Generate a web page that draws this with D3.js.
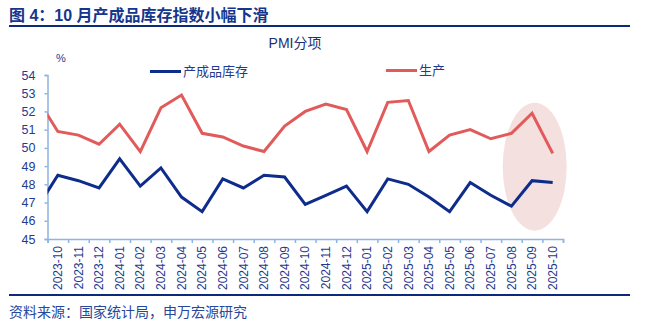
<!DOCTYPE html>
<html><head><meta charset="utf-8">
<script src="https://cdn.jsdelivr.net/npm/d3@7"></script>
<style>
body{margin:0;background:#fff;}
text{font-family:"Liberation Sans",Arial,"Noto Sans CJK SC",sans-serif;}
</style></head>
<body>
<svg id="c" width="660" height="327"></svg>
<script>
const months = ["2023-10","2023-11","2023-12","2024-01","2024-02","2024-03","2024-04","2024-05","2024-06","2024-07","2024-08","2024-09","2024-10","2024-11","2024-12","2025-01","2025-02","2025-03","2025-04","2025-05","2025-06","2025-07","2025-08","2025-09","2025-10"];
// first value = 2023-09 (partly shown, clipped at the axis)
const production = [52.7,50.9,50.7,50.2,51.3,49.8,52.2,52.9,50.8,50.6,50.1,49.8,51.2,52.0,52.4,52.1,49.8,52.5,52.6,49.8,50.7,51.0,50.5,50.8,51.9,49.7];
const inventory  = [46.7,48.5,48.2,47.8,49.4,47.9,48.9,47.3,46.5,48.3,47.8,48.5,48.4,46.9,47.4,47.9,46.5,48.3,48.0,47.3,46.5,48.1,47.4,46.8,48.2,48.1];
const yTicks = [45,46,47,48,49,50,51,52,53,54];

const svg = d3.select("#c");
const L = 47.5, R = 563, T = 75, B = 239;
const navy = "#0d2c8c", red = "#e25b5b", axisC = "#8db4e2", txt = "#1f3b8f";

// title
svg.append("text").attr("x",9).attr("y",21).attr("font-size",16).attr("font-weight","bold")
  .attr("fill","#16358c").text("图 4：10 月产成品库存指数小幅下滑");
svg.append("line").attr("x1",9).attr("x2",630).attr("y1",26).attr("y2",26).attr("stroke","#0d2a7a").attr("stroke-width",2);
svg.append("line").attr("x1",9).attr("x2",630).attr("y1",295).attr("y2",295).attr("stroke","#0d2a7a").attr("stroke-width",2);
svg.append("text").attr("x",9).attr("y",317).attr("font-size",14).attr("fill","#27479a").text("资料来源：国家统计局，申万宏源研究");

svg.append("text").attr("x",295).attr("y",48).attr("text-anchor","middle").attr("font-size",14).attr("fill","#1c3270").text("PMI分项");
svg.append("text").attr("x",61).attr("y",62).attr("text-anchor","middle").attr("font-size",11).attr("fill",txt).text("%");

const x = d3.scaleLinear().domain([-0.5, months.length-0.5]).range([L, R]);
const xb = d3.scaleBand().domain(months).range([L, R]).padding(0);
const y = d3.scaleLinear().domain([45,54]).range([B, T]);

// highlight ellipse
svg.append("ellipse").attr("cx",534.7).attr("cy",166.7).attr("rx",32).attr("ry",64).attr("fill","#f5e0e0");

// y axis
const ya = svg.append("g").attr("transform",`translate(${L},0)`)
  .call(d3.axisLeft(y).tickValues(yTicks).tickSize(3).tickPadding(9).tickFormat(d3.format("d")));
ya.select(".domain").attr("stroke",axisC).attr("stroke-width",1.5);
ya.selectAll(".tick line").attr("stroke",axisC).attr("stroke-width",1.5);
ya.selectAll("text").attr("font-size",12.5).attr("fill",txt).attr("font-family","Liberation Sans, Arial");

// x axis ticks at category boundaries
const xa = svg.append("g").attr("transform",`translate(0,${B})`)
  .call(d3.axisBottom(x).tickValues(d3.range(-0.5, months.length, 1)).tickSize(4).tickFormat(""));
xa.select(".domain").attr("stroke",axisC).attr("stroke-width",1.5);
xa.selectAll(".tick line").attr("stroke",axisC).attr("stroke-width",1.5);
const xl = svg.append("g").attr("transform",`translate(0,${B})`)
  .call(d3.axisBottom(xb).tickSize(0).tickPadding(0));
xl.select(".domain").remove();
xl.selectAll("text").attr("font-size",12).attr("fill",txt).attr("font-family","Liberation Sans, Arial")
  .attr("text-anchor","end").attr("transform","rotate(-90)").attr("x",-7).attr("y",0).attr("dy","0.35em");

// clip
svg.append("clipPath").attr("id","clip").append("rect").attr("x",L).attr("y",0).attr("width",R-L).attr("height",300);

const line = d3.line().x((d,i)=>x(i-1)).y(d=>y(d));
const g = svg.append("g").attr("clip-path","url(#clip)");
g.append("path").datum(production).attr("d",line).attr("fill","none").attr("stroke",red).attr("stroke-width",3).attr("stroke-linejoin","miter");
g.append("path").datum(inventory).attr("d",line).attr("fill","none").attr("stroke",navy).attr("stroke-width",3).attr("stroke-linejoin","miter");

// legend
svg.append("line").attr("x1",150).attr("x2",181).attr("y1",71.5).attr("y2",71.5).attr("stroke",navy).attr("stroke-width",3);
svg.append("text").attr("x",183).attr("y",76).attr("font-size",13).attr("fill",txt).text("产成品库存");
svg.append("line").attr("x1",386).attr("x2",417).attr("y1",70.5).attr("y2",70.5).attr("stroke",red).attr("stroke-width",3);
svg.append("text").attr("x",419).attr("y",75).attr("font-size",13).attr("fill",txt).text("生产");
</script>
</body></html>
